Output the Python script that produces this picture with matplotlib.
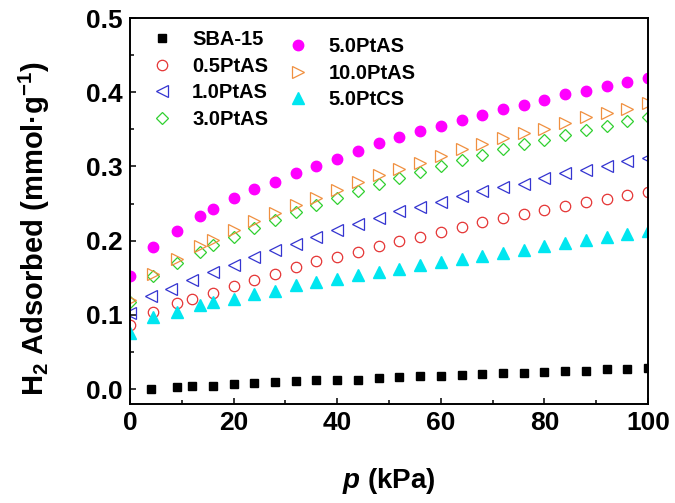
import matplotlib
matplotlib.use("Agg")
import matplotlib.pyplot as plt

plt.rcParams['font.family'] = ['Liberation Sans', 'DejaVu Sans']
plt.rcParams['font.weight'] = 'bold'
plt.rcParams['mathtext.fontset'] = 'custom'
plt.rcParams['mathtext.rm'] = 'Liberation Sans:bold'
plt.rcParams['mathtext.it'] = 'Liberation Sans:italic:bold'
plt.rcParams['mathtext.bf'] = 'Liberation Sans:bold'
plt.rcParams['mathtext.default'] = 'regular'

# ---- data ----
tail = [16, 20, 24, 28, 32, 36, 40, 44, 48, 52, 56, 60, 64, 68, 72, 76, 80, 84, 88, 92, 96, 100]
x_a = [0, 4.5, 9, 13.5] + tail      # 5.0PtAS, 10.0PtAS, 3.0PtAS, 5.0PtCS
x_red = [0, 4.5, 9, 12] + tail      # 0.5PtAS
x_blue = [0, 4, 8, 12] + tail       # 1.0PtAS
x_sba = [4, 9, 12] + tail           # SBA-15

sba15 = [0.000, 0.003, 0.004, 0.004, 0.007, 0.008, 0.010, 0.011, 0.012, 0.012, 0.013, 0.015,
         0.016, 0.018, 0.018, 0.019, 0.021, 0.022, 0.022, 0.023, 0.025, 0.025, 0.027, 0.027, 0.028]
pt05 = [0.087, 0.104, 0.116, 0.122, 0.130, 0.139, 0.147, 0.155, 0.164, 0.172, 0.178, 0.185, 0.193,
        0.199, 0.205, 0.212, 0.218, 0.225, 0.230, 0.236, 0.241, 0.247, 0.252, 0.256, 0.262, 0.265]
pt10 = [0.103, 0.125, 0.135, 0.147, 0.158, 0.167, 0.178, 0.187, 0.195, 0.205, 0.215, 0.222, 0.230,
        0.240, 0.246, 0.252, 0.260, 0.267, 0.272, 0.277, 0.284, 0.291, 0.295, 0.301, 0.307, 0.312]
pt30 = [0.118, 0.152, 0.170, 0.185, 0.194, 0.205, 0.217, 0.228, 0.238, 0.248, 0.257, 0.267, 0.276,
        0.285, 0.293, 0.301, 0.309, 0.316, 0.323, 0.330, 0.336, 0.342, 0.349, 0.354, 0.361, 0.366]
pt50 = [0.152, 0.192, 0.213, 0.233, 0.243, 0.257, 0.269, 0.279, 0.291, 0.301, 0.310, 0.321, 0.331,
        0.340, 0.348, 0.355, 0.363, 0.370, 0.377, 0.383, 0.389, 0.397, 0.402, 0.408, 0.414, 0.419]
pt100 = [0.120, 0.155, 0.176, 0.193, 0.201, 0.215, 0.227, 0.237, 0.248, 0.258, 0.268, 0.279, 0.288,
         0.297, 0.305, 0.314, 0.323, 0.330, 0.338, 0.345, 0.351, 0.359, 0.366, 0.372, 0.377, 0.385]
pt50cs = [0.075, 0.097, 0.104, 0.113, 0.118, 0.122, 0.128, 0.132, 0.140, 0.145, 0.149, 0.154, 0.158,
          0.162, 0.167, 0.171, 0.176, 0.180, 0.184, 0.188, 0.193, 0.197, 0.201, 0.205, 0.209, 0.213]

labels = ['SBA-15', '0.5PtAS', '1.0PtAS', '3.0PtAS', '5.0PtAS', '10.0PtAS', '5.0PtCS']

fig = plt.figure(figsize=(6.75, 5.03), dpi=100)
ax = fig.add_axes([130/675, 1-404/503, 518/675, 386/503])

h1 = ax.plot(x_sba, sba15, ls='none', marker='s', ms=6, color='black', label=labels[0])[0]
h2 = ax.plot(x_red, pt05, ls='none', marker='o', ms=7.5, mfc='none', mec='#e53535', mew=0.9, label=labels[1])[0]
h3 = ax.plot(x_blue, pt10, ls='none', marker='<', ms=8.5, mfc='none', mec='#3535d0', mew=0.9, label=labels[2])[0]
h4 = ax.plot(x_a, pt30, ls='none', marker='D', ms=6.5, mfc='none', mec='#30d030', mew=0.9, label=labels[3])[0]
h5 = ax.plot(x_a, pt50, ls='none', marker='o', ms=7.5, color='#ff00ff', label=labels[4])[0]
h6 = ax.plot(x_a, pt100, ls='none', marker='>', ms=8.5, mfc='none', mec='#f09040', mew=0.9, label=labels[5])[0]
h7 = ax.plot(x_a, pt50cs, ls='none', marker='^', ms=8, color='#00e6f0', label=labels[6])[0]

ax.set_xlim(0, 100)
ax.set_ylim(-0.02, 0.5)
ax.set_xticks([0, 20, 40, 60, 80, 100])
ax.set_xticks([10, 30, 50, 70, 90], minor=True)
ax.set_yticks([0.0, 0.1, 0.2, 0.3, 0.4, 0.5])
ax.set_yticklabels(['0.0', '0.1', '0.2', '0.3', '0.4', '0.5'])
ax.set_yticks([0.05, 0.15, 0.25, 0.35, 0.45], minor=True)
ax.tick_params(which='both', direction='in', top=False, right=False, width=1.1, labelsize=19, pad=5)
ax.tick_params(which='major', length=4.5)
ax.tick_params(which='minor', length=3)
for s in ax.spines.values():
    s.set_linewidth(1.4)
for t in ax.get_xticklabels() + ax.get_yticklabels():
    t.set_fontweight('bold')

ax.set_xlabel('$\\mathit{p}$ (kPa)', fontsize=20, fontweight='bold', labelpad=22)
ax.set_ylabel('H$_2$ Adsorbed (mmol·g$^{-1}$)', fontsize=21, fontweight='bold')
ax.yaxis.set_label_coords(-0.150, 0.455)

leg1 = ax.legend(handles=[h1, h2, h3, h4], loc='upper left', bbox_to_anchor=(0.042, 0.969),
                 frameon=False, prop={'size': 14.5, 'weight': 'bold'}, numpoints=1,
                 handlelength=1.0, handletextpad=1.0, labelspacing=0.38, borderpad=0, borderaxespad=0)
ax.add_artist(leg1)
ax.legend(handles=[h5, h6, h7], loc='upper left', bbox_to_anchor=(0.305, 0.951),
          frameon=False, prop={'size': 14.5, 'weight': 'bold'}, numpoints=1,
          handlelength=1.0, handletextpad=1.0, labelspacing=0.38, borderpad=0, borderaxespad=0)

fig.savefig('out.png', dpi=100)
